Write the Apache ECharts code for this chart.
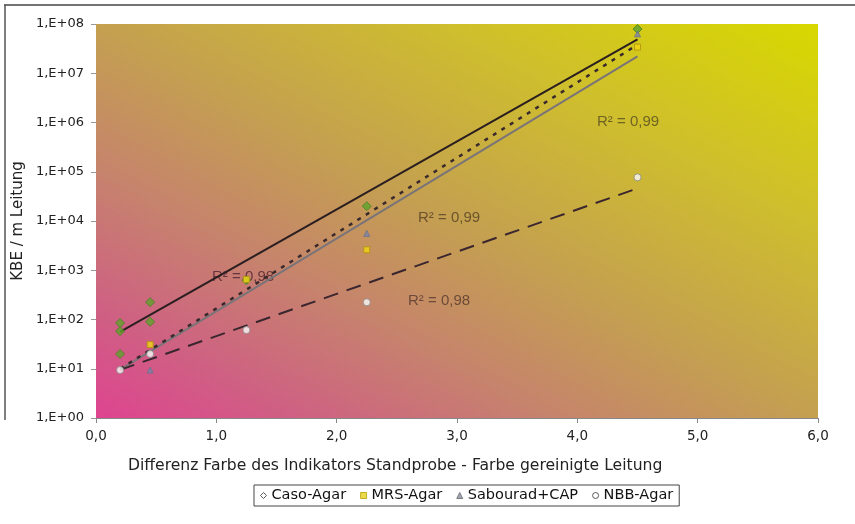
<!DOCTYPE html>
<html>
<head>
<meta charset="utf-8">
<script src="https://cdn.jsdelivr.net/npm/echarts@6/dist/echarts.min.js"></script>
<style>
  html, body { margin: 0; padding: 0; background: #fff; }
  #main { width: 855px; height: 524px; }
</style>
</head>
<body>
<div id="main"></div>
<script>
// Messwerte (KBE / m Leitung) gegen Farbdifferenz
var casoAgar = [[0.2, 85], [0.2, 58], [0.2, 20], [0.45, 225], [0.45, 90], [1.25, 630], [2.25, 20000], [4.5, 79000000]];
var mrsAgar = [[0.45, 31], [1.25, 650], [2.25, 2600], [4.5, 34000000]];
var sabouradCap = [[0.45, 9.4], [2.25, 5600], [4.5, 63000000]];
var nbbAgar = [[0.2, 9.4], [0.45, 20], [1.25, 61], [2.25, 224], [4.5, 77000]];

// exponentielle Trendlinien (Anfang / Ende)
var trendCaso = [[0.2, 56], [4.5, 49000000]];
var trendSabourad = [[0.2, 10], [4.5, 38000000]];
var trendMrs = [[0.2, 9.6], [4.5, 22000000]];
var trendNbb = [[0.2, 9.5], [4.5, 46000]];

var seriesNames = ['Caso-Agar', 'MRS-Agar', 'Sabourad+CAP', 'NBB-Agar'];
var r2Labels = ['R² = 0,98', 'R² = 0,99', 'R² = 0,98', 'R² = 0,99'];
var xTitle = 'Differenz Farbe des Indikators Standprobe - Farbe gereinigte Leitung';

var myChart = echarts.init(document.getElementById('main'));
var font = 'DejaVu Sans';

// Verlauf diagonal: unten links pink -> oben rechts gelb
var bg = new echarts.graphic.LinearGradient(0, 1, 0.459, -0.541, [
  { offset: 0, color: '#de4490' },
  { offset: 0.15, color: '#ce6282' },
  { offset: 0.32, color: '#c6846c' },
  { offset: 0.5, color: '#c4a050' },
  { offset: 0.75, color: '#cfbf2c' },
  { offset: 1, color: '#d8d800' }
]);

var option = {
  animation: false,
  backgroundColor: '#fff',
  textStyle: { fontFamily: font },
  grid: {
    left: 96, right: 37, top: 24, bottom: 106,
    show: true,
    borderWidth: 0,
    backgroundColor: bg
  },
  legend: {
    data: [
      { name: 'Caso-Agar', icon: 'diamond', itemStyle: { color: '#fff', borderColor: '#333', borderWidth: 1 } },
      { name: 'MRS-Agar', icon: 'rect', itemStyle: { color: '#e8d020', borderColor: '#b8a000', borderWidth: 1 } },
      { name: 'Sabourad+CAP', icon: 'triangle', itemStyle: { color: '#8890a0', borderColor: '#666', borderWidth: 1 } },
      { name: 'NBB-Agar', icon: 'circle', itemStyle: { color: '#fff', borderColor: '#333', borderWidth: 1 } }
    ],
    left: 254, top: 485,
    padding: [3, 6],
    borderColor: '#444', borderWidth: 1,
    backgroundColor: '#fff',
    itemWidth: 6, itemHeight: 6, itemGap: 14,
    textStyle: { fontSize: 14.5, color: '#111', fontFamily: font }
  },
  xAxis: {
    type: 'value',
    min: 0, max: 6, interval: 1,
    axisLine: { lineStyle: { color: '#888', width: 1 } },
    axisTick: { show: true, length: 5, lineStyle: { color: '#888' } },
    axisLabel: {
      fontSize: 13.5, color: '#222', margin: 11,
      formatter: function (v) { return v.toFixed(1).replace('.', ','); }
    },
    splitLine: { show: false }
  },
  yAxis: {
    type: 'log', logBase: 10,
    min: 1, max: 100000000,
    name: 'KBE / m Leitung',
    nameLocation: 'middle', nameGap: 70,
    nameMoveOverlap: false,
    nameTextStyle: { fontSize: 15, color: '#222', fontFamily: font },
    axisLine: { show: false },
    axisTick: { show: true, length: 5, lineStyle: { color: '#999' } },
    axisLabel: {
      fontSize: 13, color: '#222', margin: 12,
      formatter: function (v) {
        var e = Math.round(Math.log(v) / Math.LN10);
        return '1,E+' + (e < 10 ? '0' + e : e);
      }
    },
    splitLine: { show: false }
  },
  series: [
    {
      name: 'trendCaso', type: 'line', data: trendCaso, symbol: 'none', silent: true,
      lineStyle: { color: '#2a1e20', width: 2 }, z: 2
    },
    {
      name: 'trendSabourad', type: 'line', data: trendSabourad, symbol: 'none', silent: true,
      lineStyle: { color: '#3a2a2c', width: 2.5, type: [4, 6] }, z: 3
    },
    {
      name: 'trendMrs', type: 'line', data: trendMrs, symbol: 'none', silent: true,
      lineStyle: { color: '#7a7478', width: 2 }, z: 2
    },
    {
      name: 'trendNbb', type: 'line', data: trendNbb, symbol: 'none', silent: true,
      lineStyle: { color: '#3a262e', width: 2, type: [15, 9] }, z: 2
    },
    {
      name: seriesNames[0], type: 'scatter', data: casoAgar,
      symbol: 'diamond', symbolSize: 9,
      itemStyle: { color: '#5fa32c', borderColor: '#4a7f24', borderWidth: 1 }, z: 5
    },
    {
      name: seriesNames[1], type: 'scatter', data: mrsAgar,
      symbol: 'rect', symbolSize: 6,
      itemStyle: { color: '#f0d414', borderColor: '#b09010', borderWidth: 1 }, z: 6
    },
    {
      name: seriesNames[2], type: 'scatter', data: sabouradCap,
      symbol: 'triangle', symbolSize: 6,
      itemStyle: { color: '#7a84a8', borderColor: '#6a7090', borderWidth: 1 }, z: 6
    },
    {
      name: seriesNames[3], type: 'scatter', data: nbbAgar,
      symbol: 'circle', symbolSize: 7,
      itemStyle: { color: '#fafafa', borderColor: '#8a8a8a', borderWidth: 1 }, z: 7
    }
  ],
  graphic: [
    { type: 'line', shape: { x1: 4, y1: 5, x2: 855, y2: 5 }, style: { stroke: '#444', lineWidth: 1.5 } },
    { type: 'line', shape: { x1: 5, y1: 5, x2: 5, y2: 420 }, style: { stroke: '#555', lineWidth: 1.5 } },
    { type: 'text', left: 128, top: 458, style: { text: xTitle, fontSize: 15.6, fontFamily: font, fill: '#222' } },
    { type: 'text', left: 212, top: 269, style: { text: r2Labels[0], fontSize: 15, fontFamily: 'Liberation Sans', fill: 'rgba(70,30,45,0.75)' } },
    { type: 'text', left: 418, top: 210, style: { text: r2Labels[1], fontSize: 15, fontFamily: 'Liberation Sans', fill: 'rgba(70,50,30,0.7)' } },
    { type: 'text', left: 408, top: 293, style: { text: r2Labels[2], fontSize: 15, fontFamily: 'Liberation Sans', fill: 'rgba(70,45,40,0.7)' } },
    { type: 'text', left: 597, top: 114, style: { text: r2Labels[3], fontSize: 15, fontFamily: 'Liberation Sans', fill: 'rgba(70,60,30,0.7)' } }
  ]
};

myChart.setOption(option);
</script>
</body>
</html>
